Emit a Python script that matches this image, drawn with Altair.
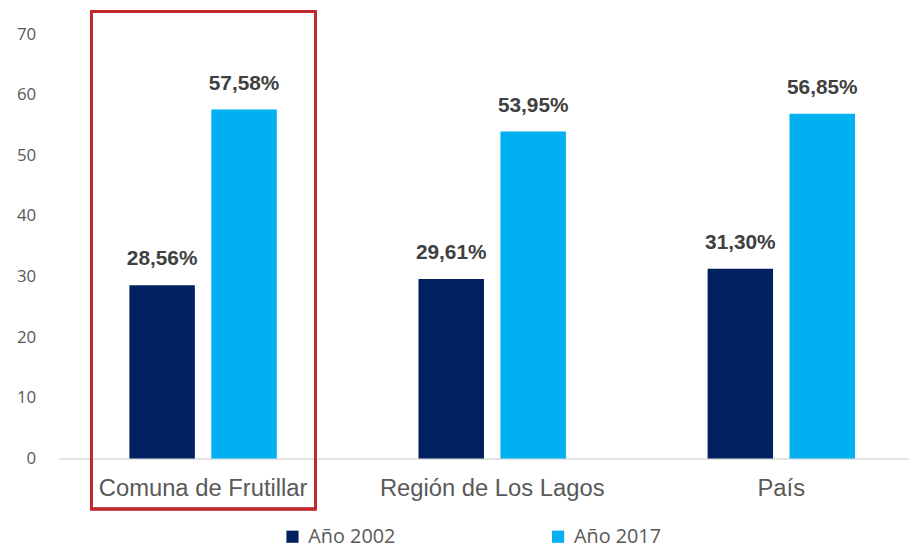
import altair as alt
import pandas as pd

categories = ["Comuna de Frutillar", "Región de Los Lagos", "País"]
years = ["Año 2002", "Año 2017"]
values_2002 = [28.56, 29.61, 31.30]
values_2017 = [57.58, 53.95, 56.85]
colors = ["#002060", "#00B0F0"]

rows = []
for c, v in zip(categories, values_2002):
    rows.append({"cat": c, "year": years[0], "value": v})
for c, v in zip(categories, values_2017):
    rows.append({"cat": c, "year": years[1], "value": v})
df = pd.DataFrame(rows)
df["label"] = df["value"].map(lambda v: f"{v:.2f}".replace(".", ",") + "%")

W, H = 855, 428

x = alt.X("cat:N", sort=categories, title=None,
          scale=alt.Scale(paddingInner=0, paddingOuter=0, range=[1, 876]),
          axis=alt.Axis(labelAngle=0, ticks=False, domain=True, domainColor="#D9D9D9",
                        domainWidth=1.5, labelFont="Liberation Sans", labelFontSize=24,
                        labelColor="#595959", labelPadding=18, grid=False,
                        labelLimit=400))
xo = alt.XOffset("year:N", sort=years,
                 scale=alt.Scale(paddingInner=0.201, paddingOuter=0.8645))
y = alt.Y("value:Q", title=None,
          scale=alt.Scale(domain=[0, 70]),
          axis=alt.Axis(values=list(range(0, 71, 10)), grid=False, domain=False, ticks=False,
                        labelFont="Open Sans", labelFontSize=17, labelColor="#595959",
                        labelPadding=22))

bars = alt.Chart(df).mark_bar().encode(
    x=x, xOffset=xo, y=y,
    color=alt.Color("year:N", sort=years, title=None,
                    scale=alt.Scale(domain=years, range=colors),
                    legend=alt.Legend(orient="none", legendX=227, legendY=497,
                                      direction="horizontal", symbolType="square",
                                      symbolSize=150, symbolStrokeWidth=0,
                                      labelFont="Open Sans", labelFontSize=20,
                                      labelColor="#595959", columnPadding=154,
                                      symbolOffset=0, labelOffset=6)),
)

labels = alt.Chart(df).mark_text(
    font="Liberation Sans", fontSize=21, fontWeight="bold", color="#404040",
    baseline="bottom", dy=-16,
).encode(x=x, xOffset=xo, y=y, text="label:N")

box = alt.Chart(df).mark_rect(
    filled=False, stroke="#C0282D", strokeWidth=2.5, clip=False,
).encode(x=alt.value(34), x2=alt.value(260), y=alt.value(-23), y2=alt.value(479))

chart = alt.layer(bars, labels, box).properties(
    width=W, height=H,
    autosize=alt.AutoSizeParams(type="none"),
    padding={"left": 50, "top": 24, "right": 4, "bottom": 90},
).configure_view(stroke=None)

chart.save("out.html", embed_options={"renderer": "svg", "actions": False})
